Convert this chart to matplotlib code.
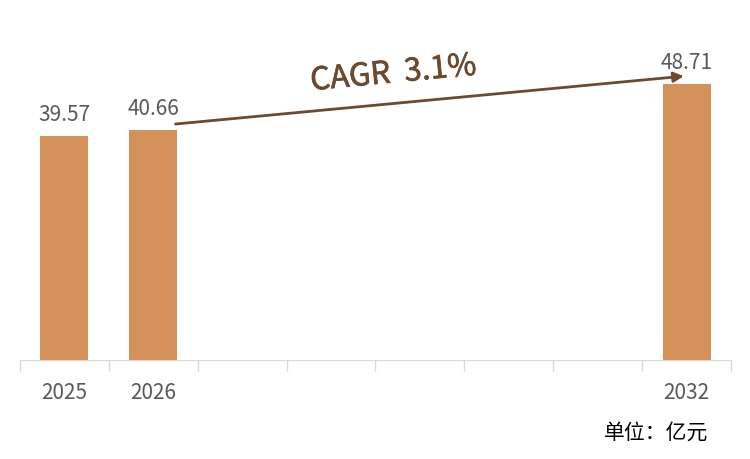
import numpy as np
import matplotlib.pyplot as plt
import matplotlib.patheffects as pe

plt.rcParams['font.family'] = ['Noto Sans CJK SC', 'DejaVu Sans']

years = ['2025', '2026', '2027', '2028', '2029', '2030', '2031', '2032']
bar_years = ['2025', '2026', '2032']
bar_values = [39.57, 40.66, 48.71]
cagr_label = 'CAGR  3.1%'
unit_label = '单位：亿元'

bar_color = '#D5915A'
arrow_color = '#6B4A2F'
text_color = '#595959'

fig = plt.figure(figsize=(7.5, 4.6), dpi=100)
ax = fig.add_axes([20/750, 99/460, 711/750, 341/460])

x = np.arange(len(years))
pos = [years.index(y) for y in bar_years]
ax.bar(pos, bar_values, width=0.54, color=bar_color)

for p, v in zip(pos, bar_values):
    ax.annotate(f'{v:.2f}', (p, v), xytext=(0, 8), textcoords='offset points',
                ha='center', va='bottom', fontsize=15, color=text_color)

ax.set_xlim(-0.5, len(years) - 0.5)
ax.set_ylim(0, 60.2)

# category labels only for years with bars
ax.set_xticks(pos)
ax.set_xticklabels(bar_years, fontsize=15, color=text_color)
ax.tick_params(axis='x', which='major', length=0, pad=15)
ax.set_xticks(np.arange(len(years) + 1) - 0.5, minor=True)
ax.tick_params(axis='x', which='minor', length=8, color='#D9D9D9', width=1)
ax.set_yticks([])
for s in ['top', 'right', 'left']:
    ax.spines[s].set_visible(False)
ax.spines['bottom'].set_color('#D9D9D9')

# CAGR arrow from 2026 bar to 2032 bar
ax.annotate('', xy=(pos[2] - 0.03, bar_values[2] + 1.4), xytext=(pos[1] + 0.25, bar_values[1] + 1.0),
            arrowprops=dict(arrowstyle='-|>', color=arrow_color, lw=2, mutation_scale=15,
                            shrinkA=0, shrinkB=0))
ax.text(3.7, 50.6, cagr_label, fontsize=22.5, color=arrow_color,
        ha='center', va='center', rotation=5.4,
        path_effects=[pe.withStroke(linewidth=0.5, foreground=arrow_color)])

fig.text(708/750, 1 - 433/460, unit_label, fontsize=15, color='black', ha='right', va='center')

fig.savefig('out.png', dpi=100)
